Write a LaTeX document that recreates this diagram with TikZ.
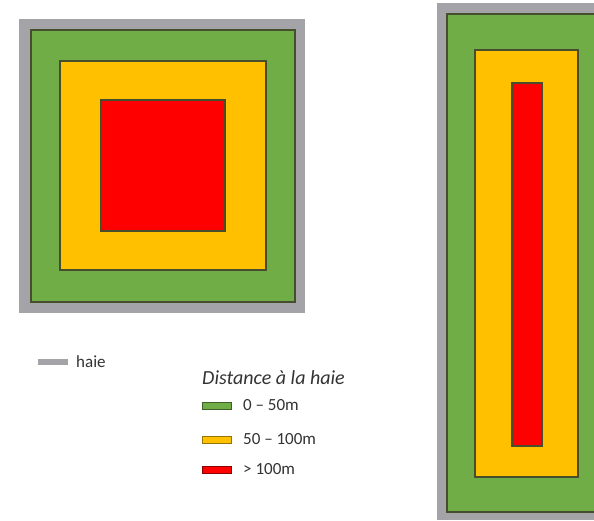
\documentclass[tikz,border=0pt]{standalone}
\usepackage{fontspec}
\setmainfont{Carlito}
\definecolor{haie}{RGB}{163,163,168}
\definecolor{zgreen}{RGB}{112,173,71}
\definecolor{zyellow}{RGB}{255,192,0}
\definecolor{zred}{RGB}{255,0,0}
\definecolor{edge}{RGB}{70,78,45}
\tikzset{
  zone/.style={draw=edge, line width=1.2pt},
  hedge/.style={fill=haie},
  legbar/.style={line width=0.8pt},
  legtext/.style={anchor=base west, inner sep=0pt, font=\fontsize{17}{20}\selectfont, text=black!80},
}
\begin{document}
\begin{tikzpicture}[x=1pt,y=-1pt]
\useasboundingbox (0,0) rectangle (594,521);
\fill[white] (0,0) rectangle (594,521);
\begin{scope}
\clip (0,0) rectangle (594,521);
% left square
\fill[hedge] (19,19) rectangle (305,313);
\filldraw[zone, fill=zgreen] (31,30) rectangle (295,302);
\filldraw[zone, fill=zyellow] (60,61) rectangle (266,270);
\filldraw[zone, fill=zred] (101,100) rectangle (225,231);
% right rectangle
\fill[hedge] (437,3) rectangle (620,520);
\filldraw[zone, fill=zgreen] (447,14) rectangle (620,512);
\filldraw[zone, fill=zyellow] (475,50) rectangle (578,477);
\filldraw[zone, fill=zred] (512,83) rectangle (542,446);
\end{scope}
% legend
\fill[haie] (38,359) rectangle (68,365);
\node[legtext, anchor=base west] (thaie) at (76,367) {haie};
\node[legtext, anchor=base west, font=\fontsize{20}{24}\selectfont\itshape] (title) at (202,384) {Distance à la haie};
\filldraw[legbar, fill=zgreen, draw=zgreen!55!black] (202,402) rectangle (231,409);
\node[legtext] (t1) at (243,410) {0 – 50m};
\filldraw[legbar, fill=zyellow, draw=zyellow!60!black] (202,436) rectangle (231,443);
\node[legtext] (t2) at (243,444) {50 – 100m};
\filldraw[legbar, fill=zred, draw=zred!55!black] (202,466) rectangle (231,473);
\node[legtext] (t3) at (243,474) {> 100m};
\end{tikzpicture}
\end{document}
